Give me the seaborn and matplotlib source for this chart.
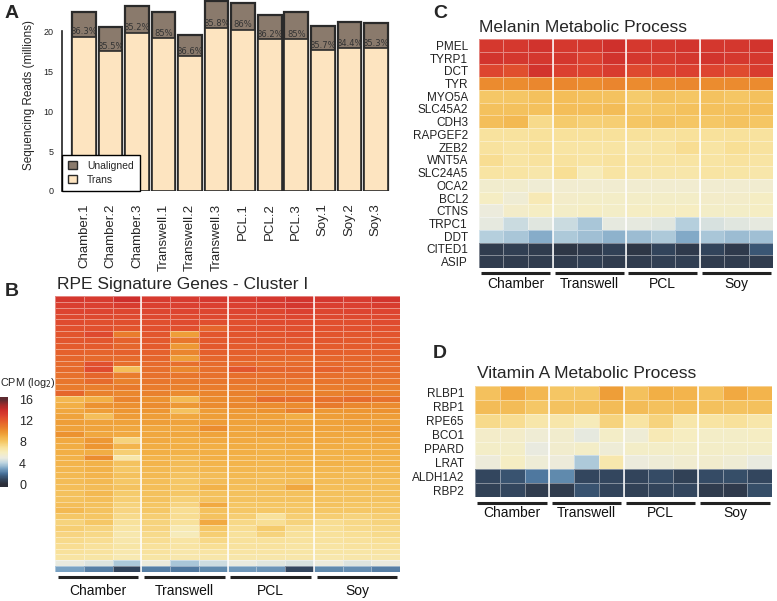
import numpy as np
import pandas as pd
import matplotlib
matplotlib.use("Agg")
import matplotlib.pyplot as plt
from matplotlib.colors import LinearSegmentedColormap, Normalize
from matplotlib.patches import Patch
import matplotlib.cm as cm
import seaborn as sns

sns.set_style("white")
plt.rcParams['font.family'] = ['Liberation Sans', 'DejaVu Sans']

# ---------------- data ----------------
samples = ["Chamber.1", "Chamber.2", "Chamber.3", "Transwell.1", "Transwell.2", "Transwell.3",
           "PCL.1", "PCL.2", "PCL.3", "Soy.1", "Soy.2", "Soy.3"]
total_reads = [22.4, 20.5, 23.2, 22.4, 19.5, 23.8, 23.5, 22.0, 22.4, 20.6, 21.2, 21.0]
trans_reads = [19.3, 17.5, 19.8, 19.1, 16.9, 20.4, 20.2, 19.0, 19.0, 17.6, 17.9, 17.9]
pct_labels = ["86.3%", "85.5%", "85.2%", "85%", "86.6%", "85.8%",
              "86%", "86.2%", "85%", "85.7%", "84.4%", "85.3%"]

groups = ["Chamber", "Transwell", "PCL", "Soy"]

# panel B: RPE signature genes, cluster I (log2 CPM), rows top -> bottom
rpe_rows = [
    [13.4, 13.3, 13.9, 13.3, 13.3, 13.4, 13.3, 13.4, 13.6, 13.5, 13.3, 13.6],
    [13.1, 13.0, 13.2, 13.0, 13.0, 13.0, 13.0, 13.2, 13.5, 13.1, 13.0, 13.2],
    [12.9, 12.9, 12.8, 12.8, 12.9, 12.8, 12.9, 12.8, 13.0, 12.8, 12.9, 12.9],
    [12.7, 12.7, 12.6, 12.7, 12.6, 12.7, 12.7, 12.7, 12.8, 12.7, 12.7, 12.7],
    [12.6, 12.5, 12.5, 12.5, 12.6, 12.5, 12.5, 12.6, 12.6, 12.5, 12.5, 12.6],
    [12.4, 12.4, 12.3, 12.4, 12.4, 11.6, 12.4, 12.4, 12.5, 12.4, 12.4, 12.4],
    [12.3, 12.7, 10.8, 12.2, 9.6, 12.2, 12.3, 12.3, 12.4, 12.3, 12.2, 12.3],
    [12.2, 12.2, 11.8, 12.1, 11.0, 12.1, 12.2, 12.2, 12.2, 12.2, 12.1, 12.1],
    [12.0, 12.0, 11.6, 12.0, 9.8, 12.1, 12.0, 12.0, 12.1, 12.0, 12.0, 12.1],
    [11.8, 11.7, 11.8, 11.8, 10.5, 11.9, 11.9, 11.8, 11.9, 11.9, 11.8, 11.8],
    [11.6, 11.5, 11.4, 11.6, 9.6, 11.6, 11.7, 11.6, 11.5, 11.6, 11.6, 11.7],
    [11.5, 12.4, 11.3, 11.5, 11.3, 11.4, 11.5, 11.3, 11.4, 11.5, 11.5, 11.4],
    [11.4, 12.6, 8.4, 11.3, 10.4, 11.3, 12.2, 11.7, 11.6, 11.8, 11.5, 11.4],
    [11.2, 11.6, 10.8, 11.2, 11.0, 11.2, 11.3, 11.3, 11.4, 11.3, 11.2, 11.2],
    [11.0, 11.4, 10.6, 11.0, 10.8, 11.0, 11.1, 11.0, 11.1, 11.1, 11.0, 11.0],
    [10.8, 10.7, 10.9, 10.8, 10.6, 10.8, 10.8, 10.9, 10.8, 10.8, 10.9, 10.7],
    [11.6, 10.6, 10.4, 10.6, 10.3, 10.5, 10.6, 10.6, 10.7, 10.6, 10.8, 10.6],
    [8.7, 9.0, 10.5, 10.0, 8.6, 10.2, 10.4, 11.4, 11.3, 11.2, 11.4, 11.2],
    [9.0, 10.0, 10.1, 10.2, 9.8, 10.3, 10.4, 10.2, 10.3, 10.9, 10.4, 10.3],
    [9.3, 9.6, 9.9, 9.9, 8.2, 9.7, 9.8, 10.0, 10.6, 9.8, 9.9, 10.0],
    [9.4, 8.4, 9.7, 9.6, 9.3, 9.6, 9.7, 9.5, 9.1, 9.6, 9.7, 9.6],
    [9.6, 9.5, 9.5, 9.6, 9.4, 9.7, 9.5, 9.6, 9.5, 9.5, 9.6, 9.5],
    [9.5, 9.4, 9.3, 9.3, 9.2, 10.2, 9.4, 9.3, 9.4, 9.5, 9.4, 9.6],
    [10.0, 9.3, 9.2, 9.3, 9.3, 9.4, 9.3, 9.4, 9.3, 9.3, 9.3, 9.4],
    [9.2, 9.8, 7.6, 9.2, 9.0, 9.2, 9.2, 9.1, 9.2, 9.2, 9.1, 9.2],
    [9.1, 9.9, 8.8, 9.1, 9.0, 9.0, 9.1, 9.0, 9.1, 9.1, 9.0, 9.1],
    [9.0, 9.1, 7.8, 9.0, 8.9, 9.0, 9.0, 8.9, 9.0, 8.9, 9.0, 9.0],
    [8.9, 10.2, 6.6, 8.8, 8.6, 9.0, 8.9, 8.9, 8.9, 8.9, 8.8, 8.9],
    [8.8, 8.9, 8.2, 8.8, 8.5, 8.8, 8.8, 8.7, 8.8, 8.9, 8.8, 8.8],
    [8.7, 8.9, 8.0, 8.6, 8.4, 8.7, 8.7, 8.7, 8.7, 8.7, 8.7, 8.7],
    [8.6, 8.8, 8.3, 8.6, 8.2, 8.5, 8.6, 8.5, 8.6, 8.6, 8.5, 8.6],
    [8.5, 8.6, 8.0, 8.4, 8.0, 8.5, 8.5, 8.4, 8.5, 8.5, 8.5, 8.4],
    [8.4, 8.5, 8.2, 8.4, 8.1, 8.9, 8.4, 8.5, 9.3, 8.4, 8.4, 8.4],
    [8.3, 8.6, 7.9, 8.3, 8.0, 8.3, 8.3, 8.3, 8.3, 8.3, 8.3, 8.3],
    [8.2, 8.4, 7.8, 8.2, 7.7, 8.2, 8.2, 8.2, 8.2, 8.2, 8.2, 8.2],
    [8.4, 8.3, 7.6, 8.1, 7.5, 9.2, 8.1, 8.1, 8.1, 8.2, 8.1, 8.1],
    [8.6, 8.2, 7.5, 8.0, 7.2, 8.3, 8.0, 8.0, 8.0, 8.0, 8.0, 8.0],
    [8.0, 8.1, 7.3, 7.8, 7.2, 8.2, 7.8, 7.0, 7.8, 7.8, 7.6, 7.8],
    [7.6, 8.0, 7.0, 7.6, 7.0, 9.2, 7.4, 7.1, 7.6, 7.2, 7.4, 7.6],
    [7.8, 7.6, 6.8, 7.5, 6.4, 8.0, 7.2, 7.9, 7.2, 7.1, 7.3, 7.4],
    [7.5, 7.4, 6.5, 7.3, 6.2, 7.8, 7.0, 7.6, 7.0, 7.0, 7.1, 7.3],
    [7.3, 7.2, 6.6, 7.2, 6.8, 7.4, 7.0, 7.0, 6.9, 6.9, 7.0, 7.1],
    [7.2, 7.0, 6.7, 7.0, 6.8, 7.1, 6.9, 6.9, 6.8, 6.8, 6.9, 7.0],
    [7.0, 6.9, 6.5, 6.9, 6.6, 6.8, 6.8, 6.8, 6.7, 6.7, 6.7, 6.8],
    [6.8, 6.7, 6.4, 6.7, 6.5, 6.6, 6.6, 6.6, 6.6, 6.5, 6.6, 6.6],
    [5.0, 4.7, 3.8, 5.1, 3.7, 4.4, 5.0, 4.8, 4.6, 5.1, 4.7, 5.0],
    [3.0, 2.3, 0.9, 2.3, 2.2, 2.5, 2.8, 2.7, 1.0, 2.5, 2.6, 2.3],
]

# panel C: melanin metabolic process
melanin_genes = ["PMEL", "TYRP1", "DCT", "TYR", "MYO5A", "SLC45A2", "CDH3", "RAPGEF2", "ZEB2",
                 "WNT5A", "SLC24A5", "OCA2", "BCL2", "CTNS", "TRPC1", "DDT", "CITED1", "ASIP"]
melanin_vals = [
    [13.4, 13.4, 13.7, 13.4, 13.5, 13.8, 13.4, 13.5, 13.6, 13.5, 13.5, 13.6],
    [13.6, 13.5, 13.5, 13.5, 13.0, 13.7, 13.5, 13.3, 13.5, 13.6, 13.4, 13.4],
    [12.8, 12.5, 13.6, 13.0, 12.9, 13.2, 12.7, 12.9, 13.0, 12.9, 12.6, 13.2],
    [10.3, 10.2, 10.4, 10.4, 10.2, 10.5, 10.3, 10.3, 10.4, 10.2, 10.3, 10.3],
    [8.0, 8.1, 8.3, 8.4, 8.3, 8.2, 7.9, 8.2, 8.1, 8.2, 8.1, 8.3],
    [8.3, 8.3, 8.3, 8.4, 8.4, 8.5, 8.0, 8.1, 8.3, 8.3, 8.3, 8.4],
    [8.4, 8.6, 7.3, 7.9, 7.7, 7.8, 8.1, 8.2, 8.1, 8.0, 8.2, 8.1],
    [6.9, 6.9, 7.0, 7.0, 7.0, 7.0, 7.0, 6.9, 7.0, 7.0, 7.0, 6.9],
    [6.9, 6.8, 7.0, 6.8, 6.8, 6.8, 6.6, 6.8, 7.2, 6.8, 7.1, 6.9],
    [7.2, 6.8, 6.9, 6.9, 6.8, 6.9, 6.8, 6.8, 6.8, 6.8, 6.9, 6.8],
    [6.8, 6.8, 6.6, 7.1, 6.2, 6.8, 6.6, 6.6, 6.6, 6.8, 6.7, 6.6],
    [5.6, 5.6, 5.4, 5.5, 5.5, 5.5, 5.5, 5.5, 5.5, 5.5, 5.5, 5.5],
    [5.9, 5.4, 6.3, 5.7, 5.8, 5.8, 5.8, 5.8, 5.8, 5.7, 5.7, 5.9],
    [5.1, 5.7, 5.9, 5.8, 5.9, 5.8, 5.9, 5.9, 6.0, 5.8, 5.8, 5.9],
    [4.9, 4.3, 4.8, 4.3, 3.7, 4.9, 4.9, 4.8, 3.9, 4.6, 4.8, 4.9],
    [3.9, 3.7, 3.2, 3.8, 3.6, 3.3, 3.5, 3.8, 3.1, 3.7, 3.5, 3.6],
    [0.6, 0.7, 0.6, 0.4, 0.5, 0.8, 0.4, 0.9, 0.5, 0.9, 0.5, 1.4],
    [0.6, 0.6, 0.6, 0.6, 0.7, 0.6, 0.6, 0.7, 0.7, 0.6, 0.6, 0.6],
]

# panel D: vitamin A metabolic process
vita_genes = ["RLBP1", "RBP1", "RPE65", "BCO1", "PPARD", "LRAT", "ALDH1A2", "RBP2"]
vita_vals = [
    [8.3, 9.2, 8.7, 8.1, 8.0, 9.6, 8.3, 9.0, 8.8, 8.3, 9.2, 8.8],
    [8.5, 8.5, 8.0, 8.2, 8.2, 8.5, 8.5, 8.3, 8.4, 8.3, 8.2, 8.3],
    [7.3, 7.2, 6.6, 6.6, 6.2, 7.6, 6.8, 7.6, 6.6, 6.8, 7.0, 6.6],
    [5.7, 5.7, 5.4, 5.6, 4.9, 5.8, 5.3, 6.3, 6.0, 5.8, 5.8, 5.9],
    [5.8, 5.8, 5.0, 5.6, 5.8, 5.3, 5.8, 5.8, 5.8, 5.8, 5.8, 5.8],
    [5.2, 5.9, 5.3, 5.2, 3.8, 6.5, 5.1, 5.3, 5.5, 5.6, 5.4, 5.0],
    [1.0, 1.3, 2.2, 2.5, 1.0, 1.0, 0.9, 1.1, 0.8, 1.1, 1.2, 1.0],
    [0.8, 1.0, 0.6, 0.6, 1.3, 0.9, 0.8, 0.9, 1.0, 0.6, 0.5, 1.2],
]

# ---------------- colours ----------------
cpm_stops = [0, 1, 2, 3, 4, 5, 6, 7, 8, 9, 10, 11, 12, 13, 14, 15, 16]
cpm_colors = ["#2b2d38", "#33475f", "#466f97", "#7ba4c4", "#bcd4e0", "#ebebdf", "#f6edc0",
              "#f8e19a", "#f5c867", "#f2b046", "#ec9330", "#e8772c", "#e45c2c", "#dc4130",
              "#cc2d2b", "#a02a2b", "#5e2a30"]
vmin, vmax = -0.5, 16.5
cmap = LinearSegmentedColormap.from_list(
    "cpm",
    [(0.0, cpm_colors[0])]
    + [((v - vmin) / (vmax - vmin), c) for v, c in zip(cpm_stops, cpm_colors)]
    + [(1.0, cpm_colors[-1])])

W, H = 777, 601
fig = plt.figure(figsize=(W / 100, H / 100), dpi=100)


def box(x0, y0, x1, y1):
    return [x0 / W, 1 - y1 / H, (x1 - x0) / W, (y1 - y0) / H]


def ftext(x, y, s, **kw):
    fig.text(x / W, 1 - y / H, s, **kw)


# ---------------- panel A ----------------
axA = fig.add_axes(box(62, 0, 395, 191))
sns.barplot(x=samples, y=total_reads, color="#8a7a6c", saturation=1, width=0.89,
            edgecolor="#2a2a2a", linewidth=1.6, ax=axA)
sns.barplot(x=samples, y=trans_reads, color="#fde4c0", saturation=1, width=0.89,
            edgecolor="#2a2a2a", linewidth=1.2, ax=axA)
for i, (t, lab) in enumerate(zip(trans_reads, pct_labels)):
    axA.text(i, t + 0.05, lab, ha="center", va="bottom", fontsize=6, color="#333333",
             family="DejaVu Sans")
axA.set_xlim(-0.83, 11.72)
axA.set_ylim(0, 23.9)
axA.set_yticks([0, 5, 10, 15, 20])
axA.tick_params(axis="y", labelsize=6.5, length=4, width=1, colors="#222222", pad=2)
axA.tick_params(axis="x", labelsize=9.5, length=0, rotation=90, pad=9)
for sp in ["top", "right", "bottom"]:
    axA.spines[sp].set_visible(False)
axA.spines["left"].set_bounds(0, 20)
axA.spines["left"].set_linewidth(1.2)
axA.spines["left"].set_color("#222222")
axA.set_ylabel("Sequencing Reads (millions)", fontsize=8.5, labelpad=6)
axA.patch.set_alpha(0)
leg = axA.legend(handles=[Patch(facecolor="#8a7a6c", edgecolor="#2a2a2a", lw=1),
                          Patch(facecolor="#fde4c0", edgecolor="#2a2a2a", lw=1)],
                 labels=["Unaligned", "Trans"], loc="lower left", bbox_to_anchor=(0, 0),
                 fontsize=7.5, handlelength=0.8, handleheight=0.8, frameon=True,
                 fancybox=False, framealpha=1, edgecolor="black", borderpad=0.6,
                 labelspacing=0.35, handletextpad=1.0, borderaxespad=0)
leg.get_frame().set_linewidth(1)
leg.set_zorder(10)


def draw_heat(ax, vals, ylabels, show_y):
    df = pd.DataFrame(vals, columns=samples, index=ylabels)
    sns.heatmap(df, ax=ax, cmap=cmap, vmin=vmin, vmax=vmax, cbar=False,
                linewidths=0.5, linecolor=(1, 1, 1, 0.4), xticklabels=False,
                yticklabels=ylabels if show_y else False)
    for xv in [3, 6, 9]:
        ax.axvline(xv, color="white", lw=1.1)


def draw_groups(ax, bar_y, text_y):
    tr = ax.get_xaxis_transform()
    for g, name in enumerate(groups):
        ax.plot([g * 3 + 0.1, g * 3 + 2.9], [bar_y, bar_y], color="#222222", lw=2.2,
                transform=tr, clip_on=False, solid_capstyle="butt")
        ax.text(g * 3 + 1.5, text_y, name, transform=tr, ha="center", va="center",
                fontsize=10, color="#111111")


# ---------------- panel B ----------------
axB = fig.add_axes(box(55, 296, 400, 572))
draw_heat(axB, rpe_rows, [str(i) for i in range(len(rpe_rows))], False)
axB.set_ylabel("")
draw_groups(axB, -0.018, -0.068)
ftext(57, 284, "RPE Signature Genes - Cluster I", fontsize=12.5, va="center", ha="left")

cax = fig.add_axes(box(0, 397, 8, 487))
cb = fig.colorbar(cm.ScalarMappable(norm=Normalize(vmin, vmax), cmap=cmap), cax=cax,
                  ticks=[0, 4, 8, 12, 16])
cb.outline.set_visible(False)
cax.tick_params(direction="in", length=3, width=0.8, color="white", labelsize=9, pad=8)
ftext(0, 383, "CPM (log$_2$)", fontsize=7.8, va="center", ha="left")

# ---------------- panel C ----------------
axC = fig.add_axes(box(479, 39, 773, 268))
draw_heat(axC, melanin_vals, melanin_genes, True)
axC.spines["left"].set_position(("outward", 3))
axC.tick_params(axis="y", length=2, width=1.6, labelsize=8.5, pad=3, colors="#222222",
                rotation=0)
axC.set_ylabel("")
draw_groups(axC, -0.022, -0.072)
ftext(479, 27, "Melanin Metabolic Process", fontsize=12.5, va="center", ha="left")

# ---------------- panel D ----------------
axD = fig.add_axes(box(475, 386, 772, 497))
draw_heat(axD, vita_vals, vita_genes, True)
axD.spines["left"].set_position(("outward", 3))
axD.tick_params(axis="y", length=2, width=1.6, labelsize=8.5, pad=3, colors="#222222",
                rotation=0)
axD.set_ylabel("")
draw_groups(axD, -0.054, -0.145)
ftext(477, 373, "Vitamin A Metabolic Process", fontsize=12.5, va="center", ha="left")

# panel letters
for lx, ly, letter in [(5, 14, "A"), (5, 292, "B"), (433, 13, "C"), (433, 354, "D")]:
    ftext(lx, ly, letter, fontsize=14, fontweight="bold", va="center", ha="left",
          family="Liberation Sans")

fig.savefig("out.png", dpi=100)
